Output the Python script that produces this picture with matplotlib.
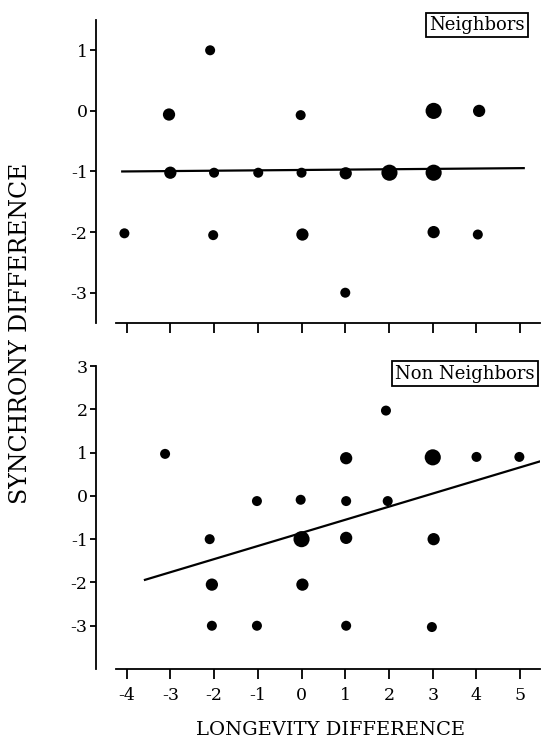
import matplotlib
matplotlib.use('Agg')
import matplotlib.pyplot as plt
import numpy as np

plt.rcParams['font.family'] = ['DejaVu Serif']

# Neighbors panel (x, y, number of overlapping pairs)
nb_x = [-4.05, -3.03, -3.0, -2.09, -2.0, -2.02, -0.99, -0.02, 0.0, 0.02,
        1.01, 1.0, 2.01, 3.02, 3.02, 3.02, 4.06, 4.03]
nb_y = [-2.02, -0.06, -1.02, 1.0, -1.02, -2.05, -1.02, -0.07, -1.02, -2.04,
        -1.03, -3.0, -1.02, 0.0, -1.02, -2.0, 0.0, -2.04]
nb_n = [1, 2, 2, 1, 1, 1, 1, 1, 1, 2, 2, 1, 3, 3, 3, 2, 2, 1]

# Non neighbors panel
nn_x = [-3.12, -2.1, -2.05, -2.05, -1.02, -1.02, -0.02, 0.0, 0.02, 1.02,
        1.02, 1.02, 1.02, 1.93, 1.97, 3.0, 3.02, 2.98, 4.0, 4.98]
nn_y = [0.97, -1.0, -2.05, -3.0, -0.12, -3.0, -0.09, -1.0, -2.05, 0.87,
        -0.12, -0.97, -3.0, 1.97, -0.12, 0.89, -1.0, -3.03, 0.9, 0.9]
nn_n = [1, 1, 2, 1, 1, 1, 1, 3, 2, 2, 1, 2, 1, 1, 1, 3, 2, 1, 1, 1]

# regression lines: intercept, slope, x range
nb_fit = (-0.975, 0.006, (-4.1, 5.08))
nn_fit = (-0.855, 0.303, (-3.58, 5.47))

x_ticks = [-4, -3, -2, -1, 0, 1, 2, 3, 4, 5]
size_map = {1: 52, 2: 78, 3: 135}

fig = plt.figure(figsize=(5.41, 7.40), dpi=100)
ax_top = fig.add_axes([0.1774, 0.5635, 0.8206, 0.4095])
ax_bot = fig.add_axes([0.1774, 0.0959, 0.8206, 0.4095])


def draw_panel(ax, xs, ys, ns, fit, ylim, yticks, label, label_pos, show_xlabels):
    sizes = [size_map[n] for n in ns]
    ax.scatter(xs, ys, s=sizes, color='black', edgecolors='none', zorder=3)
    b, m, (x0, x1) = fit
    lx = np.array([x0, x1])
    ax.plot(lx, b + m * lx, color='black', lw=1.6, zorder=2)

    ax.set_xlim(-4.7, 5.45)
    ax.set_ylim(*ylim)
    ax.set_yticks(yticks)
    ax.set_yticklabels([str(v) for v in yticks])
    ax.set_xticks(x_ticks)
    if show_xlabels:
        ax.set_xticklabels([str(v) for v in x_ticks])
    else:
        ax.set_xticklabels([])

    for side in ['top', 'right']:
        ax.spines[side].set_visible(False)
    ax.spines['bottom'].set_bounds(-4.25, 5.45)
    ax.spines['left'].set_linewidth(1.3)
    ax.spines['bottom'].set_linewidth(1.3)
    ax.tick_params(axis='y', direction='out', length=4, width=1.3, labelsize=12.5, pad=2)
    ax.tick_params(axis='x', direction='out', length=7, width=1.3, labelsize=12.5, pad=6)

    ax.text(label_pos[0], label_pos[1], label, transform=ax.transAxes,
            ha='center', va='center', fontsize=13,
            bbox=dict(boxstyle='square,pad=0.18', facecolor='white',
                      edgecolor='black', linewidth=1.3))


draw_panel(ax_top, nb_x, nb_y, nb_n, nb_fit, (-3.5, 1.5), [1, 0, -1, -2, -3],
           'Neighbors', (0.858, 0.983), False)
draw_panel(ax_bot, nn_x, nn_y, nn_n, nn_fit, (-4.0, 3.0), [3, 2, 1, 0, -1, -2, -3],
           'Non Neighbors', (0.831, 0.975), True)

fig.text(0.61, 0.0135, 'LONGEVITY DIFFERENCE', ha='center', va='center', fontsize=14)
fig.text(0.037, 0.55, 'SYNCHRONY DIFFERENCE', ha='center', va='center',
         rotation=90, fontsize=17)

fig.savefig('out.png', dpi=100)
